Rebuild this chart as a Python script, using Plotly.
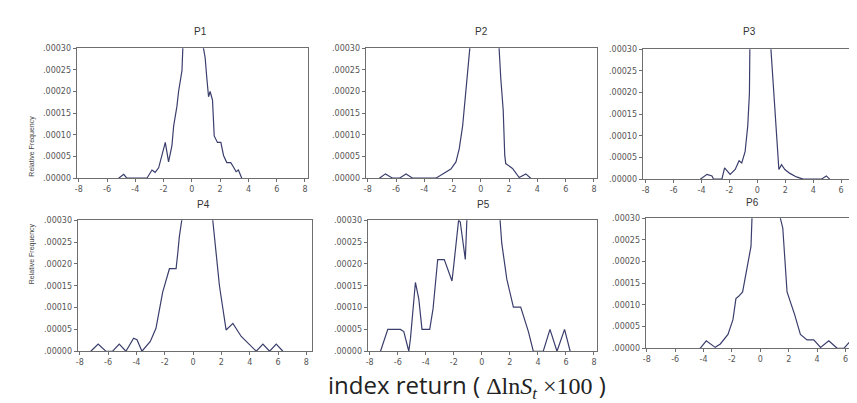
import plotly.graph_objects as go

# ---------------- data ----------------
panel_titles = ["P1", "P2", "P3", "P4", "P5", "P6"]

p1_x = [-5.18, -4.82, -4.6, -3.18, -2.82, -2.6, -2.35, -2.12, -1.88, -1.65, -1.41, -1.29, -1.06, -0.94, -0.7, -0.64,
        0.1, 0.82, 0.94, 1.06, 1.18, 1.29, 1.46, 1.58, 1.81, 2.05, 2.24, 2.47, 2.75, 2.94, 3.13, 3.29, 3.53]
p1_y = [0, 0.000009, 0, 0, 0.0000188, 0.0000135, 0.000024, 0.0000525, 0.0000825, 0.0000375, 0.000075, 0.00012,
        0.000165, 0.0002, 0.000248, 0.0003, 0.003, 0.0003, 0.000278, 0.00023, 0.000188, 0.0002, 0.00018, 0.0000975,
        0.0000825, 0.0000825, 0.0000525, 0.000036, 0.000036, 0.000026, 0.000015, 0.0000188, 0]

p2_x = [-7.18, -6.75, -6.24, -5.76, -5.29, -4.82, -3.18, -2.7, -2.12, -1.76, -1.53, -1.29, -1.06, -0.87, -0.78,
        0.25, 1.29, 1.41, 1.58, 1.69, 1.76, 2.24, 2.71, 3.18, 3.53]
p2_y = [0, 0.00001, 0, 0, 0.00001, 0, 0, 0.000009, 0.000021, 0.0000375, 0.0000675, 0.00012, 0.000195, 0.0002625,
        0.0003, 0.003, 0.0003, 0.00023, 0.0001575, 0.0000525, 0.0000338, 0.0000225, 0.0000015, 0.00001, 0]

p3_x = [-4.09, -3.61, -3.25, -3.14, -2.54, -2.35, -1.95, -1.59, -1.31, -1.12, -0.88, -0.69, -0.57, -0.45,
        0.26, 0.97, 1.26, 1.45, 1.54, 1.73, 1.97, 2.33, 2.8, 3.28, 4.58, 4.94, 5.18]
p3_y = [0, 0.0000112, 0.0000075, 0, 0, 0.000026, 0.0000112, 0.0000224, 0.0000425, 0.0000373, 0.0000634, 0.000123,
        0.000198, 0.0003, 0.003, 0.0003, 0.000168, 0.0000858, 0.0000224, 0.0000336, 0.0000224, 0.0000134,
        0.0000052, 0, 0, 0.0000075, 0]

p4_x = [-7.22, -6.7, -6.16, -5.68, -5.21, -4.74, -4.2, -3.96, -3.61, -3.02, -2.62, -2.15, -1.67, -1.2, -1.08, -0.97,
        -0.8, 0.3, 1.39, 1.56, 1.86, 2.33, 2.81, 3.4, 3.99, 4.46, 4.93, 5.4, 5.87, 6.34]
p4_y = [0, 0.0000165, 0, 0, 0.0000165, 0, 0.00003, 0.0000263, 0, 0.0000225, 0.0000525, 0.000135, 0.000189, 0.000189,
        0.000225, 0.0002625, 0.0003, 0.003, 0.0003, 0.0002475, 0.00015, 0.0000488, 0.0000638, 0.0000338, 0.000015,
        0, 0.0000165, 0, 0.0000165, 0]

p5_x = [-7.23, -6.71, -5.81, -5.57, -5.21, -5.09, -4.74, -4.5, -4.27, -3.72, -3.48, -3.15, -2.68, -2.37, -2.13, -2.01,
        -1.66, -1.54, -1.18, -1.07, 0.1, 1.3, 1.42, 1.78, 2.25, 2.77, 3.32, 3.67, 4.38, 4.86, 5.36, 5.9, 6.3]
p5_y = [0, 0.00005, 0.00005, 0.000045, 0, 0.00003, 0.0001575, 0.00012, 0.00005, 0.00005, 0.0000975, 0.00021, 0.00021,
        0.00018, 0.000161, 0.000195, 0.0003, 0.000296, 0.00021, 0.0003, 0.003, 0.0003, 0.0002475, 0.000165,
        0.000101, 0.000101, 0.000045, 0, 0, 0.00005, 0, 0.00005, 0]

p6_x = [-4.24, -3.81, -3.18, -2.82, -2.28, -1.93, -1.72, -1.53, -1.25, -0.94, -0.66, -0.59, 0.4, 1.41, 1.58, 1.88,
        2.42, 2.82, 3.29, 3.76, 4.24, 4.82, 5.41, 5.88, 6.35, 6.82]
p6_y = [0, 0.0000172, 0.0000022, 0.00001, 0.0000322, 0.000066, 0.0001148, 0.00012, 0.00013, 0.000186, 0.000235,
        0.0003, 0.003, 0.0003, 0.0002775, 0.00013, 0.0000772, 0.0000322, 0.0000195, 0.0000195, 0.0000022,
        0.0000172, 0, 0, 0.0000172, 0]

x_tick_vals = [-8, -6, -4, -2, 0, 2, 4, 6, 8]
x_tick_text = ["-8", "-6", "-4", "-2", "0", "2", "4", "6", "8"]
y_tick_vals = [0, 0.00005, 0.0001, 0.00015, 0.0002, 0.00025, 0.0003]
y_tick_text = [".00000", ".00005", ".00010", ".00015", ".00020", ".00025", ".00030"]
y_label = "Relative Frequency"
x_title = ('index return (<span style="font-family:Liberation Serif"> \u0394ln<i>S</i><sub><i>t</i></sub>'
           ' \u00d7100</span> )')

series = [(p1_x, p1_y), (p2_x, p2_y), (p3_x, p3_y), (p4_x, p4_y), (p5_x, p5_y), (p6_x, p6_y)]

# ---------------- layout ----------------
W, H = 857, 403
# pixel boxes (left, right, top, bottom)
boxes = [(66, 298, 37, 170), (356, 588, 37, 170), (634, 857, 38, 171),
         (67, 302, 213, 347), (358, 588, 213, 347), (637, 857, 211, 344)]
x_ranges = [[-8.14, 8.21], [-8.14, 8.21], [-8.21, 7.71], [-8.14, 8.39], [-8.14, 8.21], [-8.07, 7.37]]
title_x_px = [182, 472, 750, 185, 474, 753]
title_y_px = [20, 20, 20, 197, 197, 195]

line_color = "#3a3e6c"
axis_color = "#6e6e6e"
tick_font = dict(family="DejaVu Sans, sans-serif", size=8, color="#555555")

fig = go.Figure()
layout = dict(width=W, height=H, margin=dict(l=0, r=0, t=0, b=0),
              plot_bgcolor="white", paper_bgcolor="white", showlegend=False)
annotations = []
for i, ((xs, ys), (l, r, t, b)) in enumerate(zip(series, boxes)):
    n = i + 1
    xa = "x" if n == 1 else f"x{n}"
    ya = "y" if n == 1 else f"y{n}"
    fig.add_trace(go.Scatter(x=xs, y=ys, mode="lines", xaxis=xa, yaxis=ya,
                             line=dict(color=line_color, width=1.2), hoverinfo="skip"))
    right_open = n in (3, 6)
    layout["xaxis" if n == 1 else f"xaxis{n}"] = dict(
        domain=[l / W, min(r / W, 1.0)], range=x_ranges[i], anchor=ya,
        tickvals=x_tick_vals, ticktext=x_tick_text, ticks="outside", ticklen=3, tickwidth=1,
        tickcolor=axis_color, showline=True, linecolor=axis_color, linewidth=1.3, mirror=True,
        showgrid=False, zeroline=False, tickfont=tick_font)
    layout["yaxis" if n == 1 else f"yaxis{n}"] = dict(
        domain=[1 - b / H, 1 - t / H], range=[0, 0.0003], anchor=xa,
        tickvals=y_tick_vals, ticktext=y_tick_text, ticks="outside", ticklen=3, tickwidth=1,
        tickcolor=axis_color, showline=True, linecolor=axis_color, linewidth=1.3,
        mirror=not right_open, showgrid=False, zeroline=False, tickfont=tick_font)
    annotations.append(dict(text=panel_titles[i], x=title_x_px[i] / W, y=1 - title_y_px[i] / H,
                            xref="paper", yref="paper", showarrow=False, yanchor="middle",
                            font=dict(family="Liberation Sans, Arial, sans-serif", size=10, color="#333333")))

for (l, r, t, b) in (boxes[0], boxes[3]):
    annotations.append(dict(text=y_label, x=15 / W, y=1 - ((t + b) / 2) / H, xref="paper", yref="paper",
                            showarrow=False, textangle=-90,
                            font=dict(family="Liberation Sans, Arial, sans-serif", size=7, color="#444444")))

annotations.append(dict(text=x_title, x=458 / W, y=1 - 402 / H, xref="paper", yref="paper", showarrow=False,
                        yanchor="bottom",
                        font=dict(family="Open Sans, DejaVu Sans, sans-serif", size=24, color="#222222")))

layout["annotations"] = annotations
fig.update_layout(**layout)
fig.write_html("out.html")
